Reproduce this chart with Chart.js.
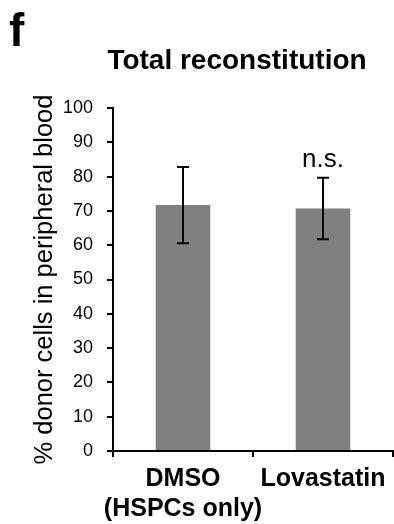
<!DOCTYPE html>
<html>
<head>
<meta charset="utf-8">
<script src="https://cdn.jsdelivr.net/npm/chart.js@4.4.1/dist/chart.umd.min.js"></script>
<style>
  html, body { margin: 0; padding: 0; background: #fff; }
  #wrap { width: 394px; height: 524px; position: relative; }
</style>
</head>
<body>
<div id="wrap"><canvas id="barChart" width="394" height="524"></canvas></div>
<script>
// data
const groups = [["DMSO", "(HSPCs only)"], "Lovastatin"];
const meanValues = [71.7, 70.7];
const errorValues = [11.1, 9.0];
const significance = ["", "n.s."];
const yTicks = [0, 10, 20, 30, 40, 50, 60, 70, 80, 90, 100];

const FONT = '"Liberation Sans", Arial, Helvetica, sans-serif';
Chart.defaults.font.family = FONT;
Chart.defaults.color = "#000";

// error bars, n.s. marks, panel letter and title
const extras = {
  id: "extras",
  afterDatasetsDraw(chart) {
    const ctx = chart.ctx;
    const x = chart.scales.x;
    const y = chart.scales.y;
    ctx.save();
    ctx.strokeStyle = "#000";
    ctx.lineWidth = 2;
    meanValues.forEach((m, i) => {
      const cx = x.getPixelForValue(i);
      const top = y.getPixelForValue(m + errorValues[i]);
      const bot = y.getPixelForValue(m - errorValues[i]);
      ctx.beginPath();
      ctx.moveTo(cx, top); ctx.lineTo(cx, bot);
      ctx.moveTo(cx - 6, top); ctx.lineTo(cx + 6, top);
      ctx.moveTo(cx - 6, bot); ctx.lineTo(cx + 6, bot);
      ctx.stroke();
      if (significance[i]) {
        ctx.fillStyle = "#000";
        ctx.font = "26px " + FONT;
        ctx.textAlign = "center";
        ctx.textBaseline = "alphabetic";
        ctx.fillText(significance[i], cx, top - 11);
      }
    });
    ctx.fillStyle = "#000";
    ctx.textAlign = "center";
    ctx.textBaseline = "alphabetic";
    ctx.font = "bold 28px " + FONT;
    ctx.fillText("Total reconstitution", 237, 69);
    ctx.textAlign = "left";
    ctx.font = "bold 46px " + FONT;
    ctx.fillText("f", 9, 46);
    ctx.restore();
  }
};

new Chart(document.getElementById("barChart"), {
  type: "bar",
  data: {
    labels: groups,
    datasets: [{
      data: meanValues,
      backgroundColor: "#808080",
      borderWidth: 0,
      barPercentage: 0.39,
      categoryPercentage: 1.0
    }]
  },
  options: {
    responsive: false,
    animation: false,
    layout: { padding: { left: 30, right: 1, top: 108, bottom: 0 } },
    plugins: { legend: { display: false }, tooltip: { enabled: false } },
    scales: {
      x: {
        offset: true,
        afterFit(scale) {
          scale.height = 73;
          scale.paddingLeft = 0;
          scale.paddingRight = 0;
        },
        grid: { offset: true, drawOnChartArea: false, tickLength: 6, color: "#000", lineWidth: 2 },
        border: { color: "#000", width: 2 },
        ticks: {
          font: { size: 25, weight: "bold", lineHeight: 1.2 },
          color: "#000",
          padding: 7,
          autoSkip: false,
          maxRotation: 0,
          minRotation: 0
        }
      },
      y: {
        min: 0,
        max: 100,
        afterBuildTicks(scale) { scale.ticks = yTicks.map(v => ({ value: v })); },
        afterFit(scale) { scale.width = 83; },
        grid: { drawOnChartArea: false, tickLength: 6, color: "#000", lineWidth: 2 },
        border: { color: "#000", width: 2 },
        ticks: { font: { size: 18 }, color: "#000", padding: 14 },
        title: {
          display: true,
          text: "% donor cells in peripheral blood",
          font: { size: 25.5 },
          color: "#000",
          padding: { top: 0, bottom: 5 }
        }
      }
    }
  },
  plugins: [extras]
});
</script>
</body>
</html>
